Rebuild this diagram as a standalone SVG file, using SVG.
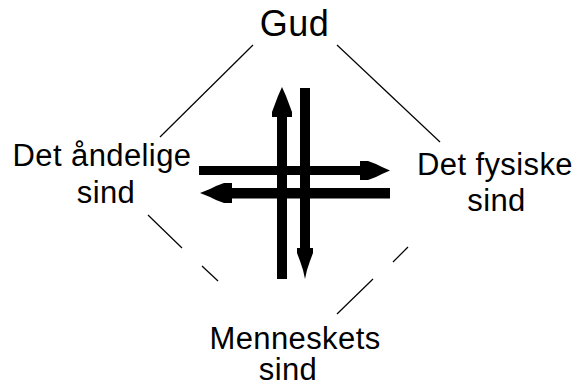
<svg xmlns="http://www.w3.org/2000/svg" width="575" height="384" viewBox="0 0 575 384">
<style>
.lbl{font-family:"Liberation Sans",Arial,sans-serif;font-size:31px;fill:#000;text-anchor:middle;letter-spacing:0.4px}
.big{font-size:36px;letter-spacing:0.5px}
.thin{stroke:#000;stroke-width:1.2;fill:none}
.thick{fill:#000;stroke:none}
</style>
<rect width="575" height="384" fill="#fff"/>
<g id="connectors">
<line class="thin" x1="253" y1="45" x2="160" y2="137"/>
<line class="thin" x1="337" y1="45" x2="440" y2="142"/>
<line class="thin" x1="148" y1="215" x2="182" y2="248"/>
<line class="thin" x1="202" y1="266" x2="218" y2="281"/>
<line class="thin" x1="408" y1="247" x2="393" y2="262"/>
<line class="thin" x1="373" y1="279" x2="337" y2="314"/>
</g>
<g id="arrows">
<polygon class="thick" points="199,166 360,166 360,161 368,161 376,164 382,167 390,170.5 382,174 376,177 368,180 360,180 360,175 199,175"/>
<polygon class="thick" points="390,188 232,188 232,183 224,183 216,186 210,189 200,193 210,197 216,200 224,203 232,203 232,198.5 390,198.5"/>
<polygon class="thick" points="277,279 277,117 272,117 272,112 275,104 278,96 282,87 286,96 289,104 292,112 292,117 287,117 287,279"/>
<polygon class="thick" points="300,88 310,88 310,248 313,248 313,253 310,261 307,270 305,279 303,270 300,261 297,253 297,248 300,248"/>
</g>
<g id="gud"><text class="lbl big" x="294.5" y="36">Gud</text></g>
<g id="aandelige"><text class="lbl" x="102" y="166">Det åndelige</text><text class="lbl" x="106" y="203">sind</text></g>
<g id="fysiske"><text class="lbl" x="495" y="175">Det fysiske</text><text class="lbl" x="496.5" y="211">sind</text></g>
<g id="menneskets"><text class="lbl" x="295" y="349">Menneskets</text><text class="lbl" x="288" y="380">sind</text></g>
</svg>
